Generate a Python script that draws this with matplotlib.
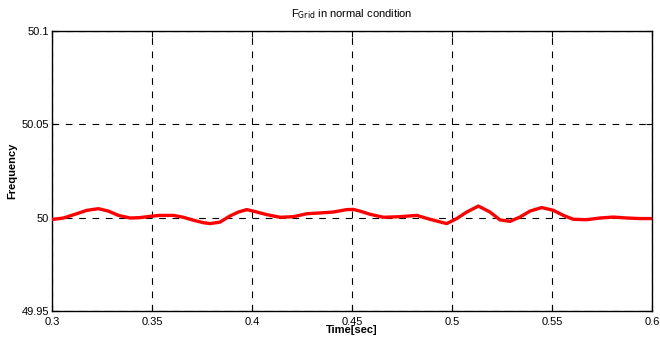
import numpy as np
import matplotlib.pyplot as plt
from matplotlib.ticker import FormatStrFormatter

# values
t = [0.3000, 0.3057, 0.3124, 0.3174, 0.3232, 0.3282, 0.3332, 0.3390, 0.3440, 0.3490,
     0.3540, 0.3607, 0.3657, 0.3707, 0.3757, 0.3790, 0.3840, 0.3890, 0.3932, 0.3974,
     0.4024, 0.4074, 0.4140, 0.4207, 0.4274, 0.4340, 0.4407, 0.4474, 0.4507, 0.4540,
     0.4590, 0.4657, 0.4740, 0.4824, 0.4890, 0.4974, 0.5024, 0.5074, 0.5132, 0.5190,
     0.5240, 0.5290, 0.5340, 0.5390, 0.5449, 0.5507, 0.5557, 0.5607, 0.5674, 0.5740,
     0.5807, 0.5874, 0.5940, 0.6000]
dev = [-0.0010, -0.0002, 0.0021, 0.0039, 0.0048, 0.0035, 0.0012, -0.0002, 0.0000, 0.0007,
       0.0012, 0.0012, 0.0002, -0.0014, -0.0027, -0.0032, -0.0024, 0.0009, 0.0030, 0.0043,
       0.0030, 0.0016, 0.0002, 0.0005, 0.0021, 0.0025, 0.0030, 0.0043, 0.0044, 0.0035,
       0.0018, 0.0002, 0.0005, 0.0012, -0.0009, -0.0032, -0.0005, 0.0030, 0.0062, 0.0030,
       -0.0012, -0.0020, 0.0003, 0.0035, 0.0054, 0.0039, 0.0012, -0.0009, -0.0011, -0.0002,
       0.0003, -0.0002, -0.0005, -0.0005]
freq = [50.0 + d for d in dev]

xticks = [0.3, 0.35, 0.4, 0.45, 0.5, 0.55, 0.6]
yticks = [49.95, 50, 50.05, 50.1]

plt.rcParams['font.family'] = ['Liberation Sans', 'DejaVu Sans']

fig = plt.figure(figsize=(6.6, 3.37), dpi=100)
ax = fig.add_axes([0.0788, 0.0772, 0.909, 0.831])

ax.plot(t, freq, color='red', linewidth=2.4, solid_capstyle='round',
        solid_joinstyle='round', zorder=3)

ax.set_xlim(0.3, 0.6)
ax.set_ylim(49.95, 50.1)
ax.set_xticks(xticks)
ax.set_yticks(yticks)
ax.xaxis.set_major_formatter(FormatStrFormatter('%g'))
ax.yaxis.set_major_formatter(FormatStrFormatter('%g'))
ax.tick_params(direction='in', top=True, right=True, labelsize=8, length=4)
ax.tick_params(axis='x', pad=4)
ax.tick_params(axis='y', pad=2)
ax.grid(True, color='black', linestyle=(0, (6, 6)), linewidth=0.8)

ax.set_xlabel('Time[sec]', fontsize=8, fontweight='bold', labelpad=-1)
ax.set_ylabel('Frequency', fontsize=8, fontweight='bold', labelpad=3)
ax.set_title(r'F$_{\mathrm{Grid}}$ in normal condition', fontsize=8, pad=10)

for s in ax.spines.values():
    s.set_linewidth(1.0)

fig.savefig('out.png', dpi=100)
